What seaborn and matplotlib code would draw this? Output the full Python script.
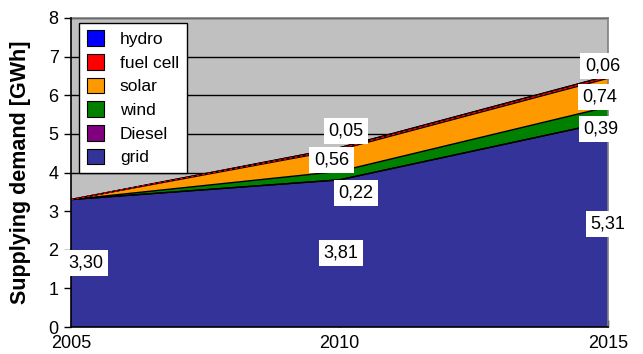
import numpy as np
import pandas as pd
import matplotlib
matplotlib.use("Agg")
import matplotlib.pyplot as plt
import seaborn as sns
from matplotlib.patches import Patch

# Supplied energy per source [GWh]
years = [2005, 2010, 2015]
grid = [3.30, 3.81, 5.31]
diesel = [0.0, 0.0, 0.0]
wind = [0.0, 0.22, 0.39]
solar = [0.0, 0.56, 0.74]
fuel_cell = [0.0, 0.05, 0.06]
hydro = [0.0, 0.0, 0.0]

series_names = ["grid", "Diesel", "wind", "solar", "fuel cell", "hydro"]
series_values = [grid, diesel, wind, solar, fuel_cell, hydro]
series_colors = ["#333399", "#800080", "#008000", "#FF9900", "#FF0000", "#0000FF"]

# value labels: (series index, year index, label x, label y)
label_spots = [
    (0, 0, 2005.28, None), (0, 1, 2010.03, None), (0, 2, 2015.0, None),
    (2, 1, 2010.30, 3.47), (3, 1, 2009.85, 4.33), (4, 1, 2010.12, 5.08),
    (2, 2, 2014.87, 5.13), (3, 2, 2014.85, 5.96), (4, 2, 2014.90, 6.76),
]

sns.set_theme(style="white")
plt.rcParams["font.family"] = ["Liberation Sans", "DejaVu Sans"]
plt.rcParams["text.color"] = "black"
plt.rcParams["axes.labelcolor"] = "black"
plt.rcParams["xtick.color"] = "black"
plt.rcParams["ytick.color"] = "black"

fig = plt.figure(figsize=(6.43, 3.54), dpi=100)
ax = fig.add_axes([71 / 643, 1 - 327 / 354, (608 - 71) / 643, (327 - 18) / 354])
ax.set_facecolor("#C0C0C0")

ax.stackplot(years, *series_values, colors=series_colors,
             edgecolor="none", linewidth=0, zorder=2)

# black outline along each stacked boundary
df = pd.DataFrame({"year": years})
cum = np.zeros(len(years))
for name, vals in zip(series_names, series_values):
    cum = cum + np.array(vals)
    df[name] = cum
    sns.lineplot(x="year", y=name, data=df, ax=ax, color="black",
                 linewidth=1.0, zorder=3, legend=False)
# red marker through the thin fuel cell band
fc_mid = df["solar"] + np.array(fuel_cell) / 2
ax.plot(years, fc_mid, color="#FF0000", linewidth=1.0, dashes=(2, 2), zorder=4)

for si, yi, lx, ly in label_spots:
    val = series_values[si][yi]
    if ly is None:
        ly = val / 2
    ax.text(lx, ly, f"{val:.2f}".replace(".", ","), ha="center", va="center",
            fontsize=13, color="black", zorder=10, clip_on=False,
            bbox=dict(boxstyle="square,pad=0.25", facecolor="white",
                      edgecolor="none"))

ax.set_xlim(2005, 2015)
ax.set_ylim(0, 8)
ax.set_xticks(years)
ax.set_xticklabels([str(y) for y in years])
ax.set_yticks(range(0, 9))
ax.yaxis.grid(True, color="black", linewidth=1.0, zorder=1)
ax.set_axisbelow(True)
ax.tick_params(axis="y", direction="out", length=5, width=1, color="black",
               labelsize=13, pad=4, left=True)
ax.tick_params(axis="x", direction="in", length=5, width=1, color="black",
               labelsize=13, pad=6, bottom=True)

ax.set_xlabel("")
ax.set_ylabel("Supplying demand [GWh]", fontsize=15.5, fontweight="bold",
              color="black")
ax.yaxis.set_label_coords(-0.075, 0.5)

for side in ["left", "bottom"]:
    ax.spines[side].set_color("black")
    ax.spines[side].set_linewidth(1.2)
    ax.spines[side].set_zorder(7)
for side in ["top", "right"]:
    ax.spines[side].set_color("#808080")
    ax.spines[side].set_linewidth(1.2)

handles = [Patch(facecolor=c, edgecolor="black", linewidth=0.8, label=n)
           for n, c in zip(series_names, series_colors)][::-1]
leg = ax.legend(handles=handles, loc="upper left", bbox_to_anchor=(0.015, 0.985),
                fontsize=12.5, frameon=True, fancybox=False, framealpha=1,
                handlelength=1.0, handleheight=1.0, handletextpad=0.9,
                labelspacing=0.4, borderpad=0.45, borderaxespad=0)
leg.get_frame().set_edgecolor("black")
leg.get_frame().set_linewidth(1.0)
leg.set_zorder(8)
for t in leg.get_texts():
    t.set_color("black")

fig.savefig("out.png", dpi=100, facecolor="white")
